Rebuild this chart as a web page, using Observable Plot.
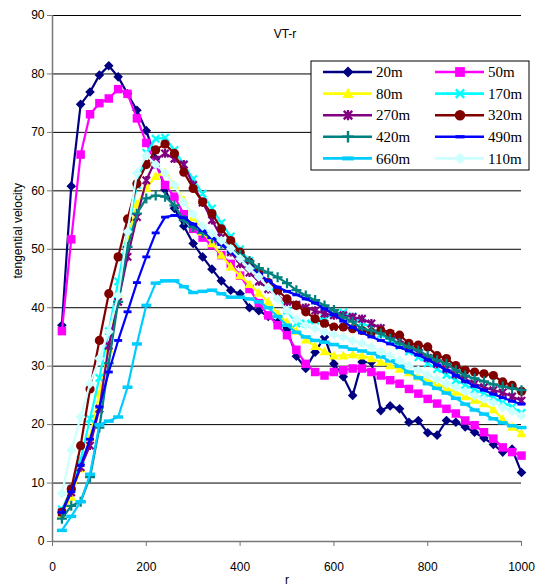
<!DOCTYPE html>
<html><head><meta charset="utf-8">
<script src="https://cdn.jsdelivr.net/npm/d3@7"></script>
<script src="https://cdn.jsdelivr.net/npm/@observablehq/plot@0.6"></script>
<style>
body{margin:0;background:#fff;}
#chart{position:relative;width:539px;height:586px;overflow:hidden;background:#fff}
</style></head><body><div id="chart"></div>
<script>
// ---- data ----
const radius = [20,40,60,80,100,120,140,160,180,200,
  220,240,260,280,300,320,340,360,380,400,
  420,440,460,480,500,520,540,560,580,600,
  620,640,660,680,700,720,740,760,780,800,
  820,840,860,880,900,920,940,960,980,1000];

const s20m = [37.0,60.8,74.8,76.9,79.8,81.4,79.5,76.6,73.8,70.3,
  65.5,60.2,57.0,54.0,51.0,48.7,46.6,44.6,43.0,42.4,
  40.0,39.5,38.5,37.5,36.3,31.7,29.6,32.4,35.0,30.4,
  28.2,25.0,30.7,30.7,22.4,23.2,22.7,20.4,20.7,18.6,
  18.2,20.7,20.4,19.6,18.7,17.7,16.6,15.3,15.8,11.8];
const s50m = [36.0,51.7,66.2,73.1,75.0,75.8,77.4,76.6,72.4,68.2,
  64.5,61.0,59.0,56.0,53.5,52.0,50.7,49.0,47.5,45.5,
  43.2,40.8,38.7,37.0,35.3,32.8,30.4,29.0,28.4,29.0,
  29.3,29.6,29.6,29.0,28.4,27.6,27.0,26.1,25.3,24.4,
  23.6,22.7,21.9,20.7,19.9,18.7,17.6,16.1,15.3,14.7];
const s80m = [4.7,7.6,12.5,17.9,25.3,33.0,42.5,51.5,57.7,60.5,
  62.5,63.2,61.0,58.4,55.5,53.0,51.0,49.0,47.0,45.5,
  44.0,42.5,41.0,39.0,37.5,36.0,34.5,33.4,32.5,31.8,
  31.8,32.0,31.8,31.3,30.7,30.1,29.5,28.9,28.2,27.6,
  27.0,26.2,25.6,24.8,24.2,23.6,22.6,20.9,19.6,18.5];
const s170m = [5.5,9.0,14.0,21.0,28.0,36.0,44.5,53.0,61.0,66.5,
  68.9,69.1,67.0,64.5,62.0,59.5,57.0,54.5,52.2,50.0,
  48.0,46.0,44.0,42.0,39.5,37.3,37.3,37.8,38.3,38.8,
  39.2,38.5,37.5,36.5,35.5,34.5,33.5,32.5,31.5,30.5,
  29.5,28.5,27.6,26.8,26.0,25.3,24.6,23.8,23.0,22.0];
const s270m = [5.0,8.4,12.7,16.4,22.7,33.5,41.0,48.7,55.5,61.8,
  65.3,66.4,65.5,64.5,61.0,58.0,55.0,52.0,49.5,47.5,
  46.0,44.5,43.2,42.0,41.0,40.5,40.0,39.5,39.0,38.7,
  38.7,38.4,38.1,37.3,36.5,35.5,34.5,33.4,32.4,31.4,
  30.4,29.5,28.6,27.8,27.0,26.4,25.9,25.5,24.8,24.1];
const s320m = [5.0,9.0,16.4,26.1,34.4,42.4,48.7,55.2,61.2,64.5,
  67.0,68.0,66.4,63.2,60.4,58.1,56.1,53.5,51.5,49.5,
  47.8,46.0,44.3,43.0,41.5,40.4,39.3,38.1,37.3,36.7,
  36.7,36.4,36.1,35.8,36.1,35.6,35.3,33.9,33.6,33.3,
  31.8,31.3,30.1,29.3,29.0,28.7,28.4,27.3,26.7,25.7];
const s420m = [3.9,6.1,6.8,11.0,19.5,30.5,41.0,50.4,56.1,58.7,
  59.2,59.0,57.5,55.0,53.8,52.8,51.9,51.0,50.1,49.0,
  48.0,46.8,46.0,45.2,44.2,43.0,42.1,41.3,40.4,39.6,
  38.4,37.6,36.4,36.1,35.6,34.7,33.9,33.3,32.7,31.8,
  31.0,30.4,29.3,28.4,27.9,27.4,26.9,26.5,26.2,25.9];
const s490m = [5.0,8.5,13.0,17.5,23.0,29.0,34.4,39.3,44.3,48.7,
  52.8,55.5,55.8,55.4,54.3,53.2,52.0,50.8,49.5,48.3,
  47.0,45.8,44.6,43.5,42.8,42.2,41.5,40.8,39.8,38.8,
  37.7,36.6,35.7,35.0,34.4,33.8,33.2,32.6,31.9,31.1,
  30.2,29.3,28.4,27.4,26.6,25.9,25.2,24.6,24.0,23.5];
const s660m = [1.9,4.3,6.8,11.5,20.0,20.6,21.3,26.4,33.8,40.4,
  44.2,44.6,44.6,43.6,42.6,42.8,43.0,42.4,41.8,41.8,
  41.5,41.0,40.0,38.5,37.0,35.8,35.0,34.4,34.1,33.7,
  33.3,32.9,32.6,32.2,31.6,30.9,30.0,29.0,28.0,27.0,
  26.2,25.4,24.5,23.5,22.5,21.8,21.0,20.3,19.8,19.5];
const s110m = [8.2,15.6,21.3,27.0,31.3,35.9,42.1,53.0,63.0,66.1,
  64.5,63.0,61.0,58.0,56.0,54.0,52.7,51.5,50.1,48.4,
  46.7,45.3,43.5,41.5,39.5,38.0,37.0,36.4,35.8,35.4,
  35.0,34.4,33.9,33.3,32.5,31.8,31.0,30.1,29.3,28.5,
  27.7,27.0,26.4,25.7,25.0,24.4,23.8,23.0,22.3,21.5];

const seriesNames = ["20m","50m","80m","170m","270m","320m","420m","490m","660m","110m"];
const seriesValues = [s20m,s50m,s80m,s170m,s270m,s320m,s420m,s490m,s660m,s110m];
const xTicks = [0,200,400,600,800,1000];
const yTicks = [0,10,20,30,40,50,60,70,80,90];
const titleText = "VT-r";
const xLabel = "r";
const yLabel = "tengential velocity";

// ---- marker symbols ----
const R = s => Math.sqrt(s / Math.PI);
const symDiamond = {draw(c,s){const r=R(s); c.moveTo(0,-r); c.lineTo(r,0); c.lineTo(0,r); c.lineTo(-r,0); c.closePath();}};
const symSquare = {draw(c,s){const r=R(s)*0.85; c.rect(-r,-r,2*r,2*r);}};
const symTriangle = {draw(c,s){const r=R(s); c.moveTo(0,-r); c.lineTo(r,r*0.75); c.lineTo(-r,r*0.75); c.closePath();}};
const symX = {draw(c,s){const r=R(s)*0.8; c.moveTo(-r,-r); c.lineTo(r,r); c.moveTo(r,-r); c.lineTo(-r,r);}};
const symStar = {draw(c,s){const r=R(s)*0.8; c.moveTo(-r,-r); c.lineTo(r,r); c.moveTo(r,-r); c.lineTo(-r,r); c.moveTo(0,-r*1.2); c.lineTo(0,r*1.2);}};
const symCircle = {draw(c,s){const r=R(s); c.moveTo(r,0); c.arc(0,0,r,0,2*Math.PI);}};
const symPlus = {draw(c,s){const r=R(s); c.moveTo(-r,0); c.lineTo(r,0); c.moveTo(0,-r); c.lineTo(0,r);}};
const symDash = {draw(c,s){const r=R(s); c.rect(-r,-r*0.35,2*r,r*0.7);}};

const styles = [
  {color:"#000080", sym:symDiamond, r:4.8, filled:true},
  {color:"#FF00FF", sym:symSquare,  r:5,   filled:true},
  {color:"#FFFF00", sym:symTriangle,r:5,   filled:true},
  {color:"#00FFFF", sym:symX,       r:4.6, filled:false},
  {color:"#800080", sym:symStar,    r:4.6, filled:false},
  {color:"#800000", sym:symCircle,  r:4.6, filled:true},
  {color:"#008080", sym:symPlus,    r:5,   filled:false},
  {color:"#0000FF", sym:symDash,    r:4,   filled:true},
  {color:"#00CCFF", sym:symDash,    r:5,   filled:true},
  {color:"#CCFFFF", sym:symDiamond, r:5,   filled:true}
];

const rows = seriesNames.map((name,i) => seriesValues[i].map((v,j) => ({series:name, r:radius[j], v})));

const marks = [
  Plot.gridY(yTicks.filter(t => t > 0), {stroke:"#000", strokeOpacity:1, strokeWidth:1}),
  Plot.ruleY([0], {stroke:"#777", strokeWidth:1.5}),
  Plot.ruleX([0], {stroke:"#777", strokeWidth:1.5}),
  Plot.axisY(yTicks, {tickSize:5, tickPadding:3, stroke:"#777", fontSize:12, tickFormat:d=>String(d), label:null}),
  Plot.axisX(xTicks, {tickSize:5, tickPadding:16, stroke:"#777", fontSize:12, tickFormat:d=>String(d), label:null})
];
rows.forEach((data,i) => {
  const st = styles[i];
  marks.push(Plot.line(data, {x:"r", y:"v", stroke:st.color, strokeWidth:2.2}));
  marks.push(Plot.dot(data, st.filled
    ? {x:"r", y:"v", symbol:st.sym, r:st.r, fill:st.color, stroke:"none"}
    : {x:"r", y:"v", symbol:st.sym, r:st.r, fill:"none", stroke:st.color, strokeWidth:2.2}));
});
marks.push(Plot.text([titleText], {frameAnchor:"top", dy:14, dx:-2, fontSize:12, text:d=>d}));
marks.push(Plot.text([xLabel], {frameAnchor:"bottom", dy:42, fontSize:12, text:d=>d}));
marks.push(Plot.text([yLabel], {frameAnchor:"left", dx:-34, rotate:-90, fontSize:12, text:d=>d}));

const svg = Plot.plot({
  width:539, height:586,
  marginLeft:52, marginRight:18, marginTop:15, marginBottom:45,
  x:{domain:[0,1000]},
  y:{domain:[0,90]},
  style:{fontFamily:"'Liberation Sans', Arial, sans-serif", fontSize:"12px", color:"#000", background:"#fff"},
  marks
});
document.getElementById("chart").appendChild(svg);

// ---- legend ----
const lg = d3.select(svg).append("g").attr("transform","translate(311,61)");
lg.append("rect").attr("width",218).attr("height",109).attr("fill","#fff").attr("stroke","#000").attr("stroke-width",1);
seriesNames.forEach((name,i) => {
  const st = styles[i];
  const col = i % 2, row = Math.floor(i/2);
  const x0 = col === 0 ? 12 : 124, y0 = 11 + row*21.6;
  const g = lg.append("g").attr("transform",`translate(${x0},${y0})`);
  g.append("line").attr("x1",0).attr("x2",49).attr("y1",0).attr("y2",0).attr("stroke",st.color).attr("stroke-width",2.6);
  const p = d3.symbol().type(st.sym).size(Math.PI*(st.r*1.15)**2)();
  const m = g.append("path").attr("d",p).attr("transform","translate(25,0)");
  if (st.filled) m.attr("fill",st.color); else m.attr("fill","none").attr("stroke",st.color).attr("stroke-width",2.4);
  g.append("text").attr("x",53).attr("y",0).attr("dy","0.35em").attr("text-anchor","start")
    .attr("font-family","'Liberation Serif','Times New Roman',serif").attr("font-size",15).attr("fill","#000").text(name);
});
</script>
</body></html>
